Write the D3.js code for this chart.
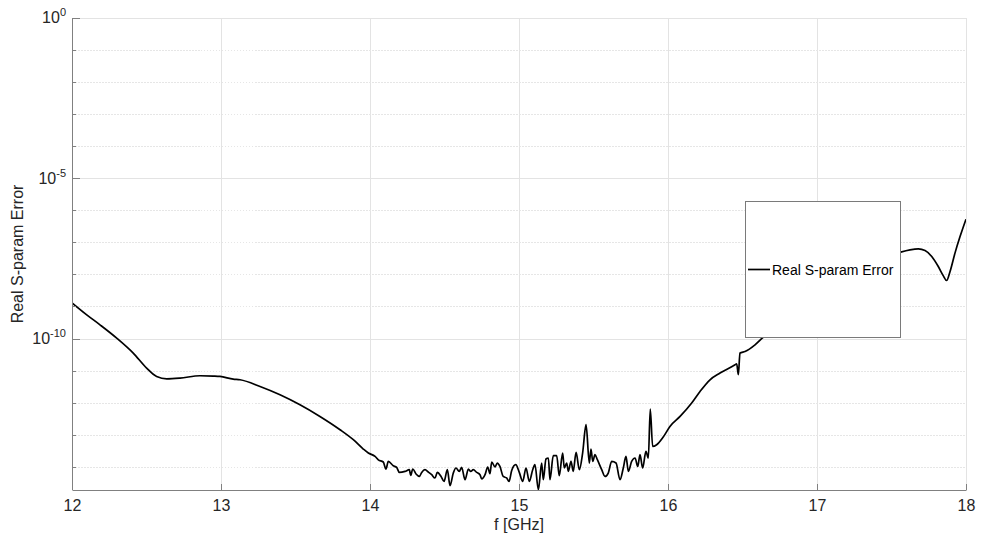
<!DOCTYPE html>
<html>
<head>
<meta charset="utf-8">
<script src="https://cdn.jsdelivr.net/npm/d3@7"></script>
<style>
  html, body { margin: 0; padding: 0; background: #fff; }
  svg { display: block; font-family: Arial, "Liberation Sans", Helvetica, sans-serif; }
</style>
</head>
<body>
<svg id="chart" width="981" height="541"></svg>
<script>
// Frequency samples [GHz]
const freqGHz = [
  12.000, 12.099, 12.188, 12.300, 12.411, 12.501, 12.568, 12.636, 12.725, 12.859,
  12.948, 12.993, 13.082, 13.128, 13.262, 13.396, 13.530, 13.664, 13.799, 13.888,
  13.955, 13.989, 14.034, 14.056, 14.089, 14.107, 14.123, 14.156, 14.179, 14.197,
  14.235, 14.264, 14.273, 14.287, 14.309, 14.331, 14.347, 14.369, 14.391, 14.414,
  14.436, 14.452, 14.477, 14.497, 14.519, 14.537, 14.559, 14.577, 14.599, 14.615,
  14.638, 14.660, 14.676, 14.693, 14.716, 14.738, 14.750, 14.772, 14.790, 14.805,
  14.817, 14.839, 14.854, 14.872, 14.894, 14.917, 14.933, 14.951, 14.978, 15.002,
  15.025, 15.047, 15.069, 15.092, 15.107, 15.130, 15.152, 15.163, 15.181, 15.197,
  15.208, 15.230, 15.253, 15.270, 15.293, 15.304, 15.320, 15.331, 15.349, 15.364,
  15.383, 15.405, 15.427, 15.450, 15.472, 15.483, 15.495, 15.510, 15.526, 15.555,
  15.577, 15.599, 15.622, 15.651, 15.678, 15.700, 15.718, 15.734, 15.756, 15.779,
  15.797, 15.812, 15.830, 15.852, 15.868, 15.881, 15.897, 15.924, 15.968, 16.013,
  16.081, 16.159, 16.215, 16.282, 16.349, 16.450, 16.461, 16.472, 16.483, 16.517,
  16.584, 16.640, 16.886, 17.154, 17.356, 17.562, 17.624, 17.680, 17.725, 17.770,
  17.814, 17.848, 17.870, 17.893, 17.926, 17.960, 18.000
];

// log10 of the real S-parameter error at each frequency
const errorLog10 = [
  -8.870, -9.244, -9.555, -9.969, -10.436, -10.903, -11.164, -11.236, -11.214, -11.142,
  -11.152, -11.164, -11.245, -11.267, -11.475, -11.734, -12.045, -12.409, -12.823, -13.134,
  -13.424, -13.548, -13.654, -13.760, -13.828, -14.046, -13.810, -13.944, -13.996, -14.152,
  -14.121, -14.068, -14.245, -14.046, -14.202, -14.277, -14.152, -14.068, -14.140, -14.224,
  -14.326, -14.152, -14.277, -14.432, -14.068, -14.566, -14.171, -14.015, -14.121, -13.996,
  -14.379, -14.046, -14.121, -14.068, -14.152, -14.224, -14.357, -14.224, -13.984, -14.193,
  -13.828, -13.984, -13.860, -13.965, -14.277, -14.326, -14.432, -14.090, -13.912, -14.152,
  -14.432, -14.015, -14.432, -14.068, -13.912, -14.691, -13.860, -14.379, -13.735, -13.704,
  -14.379, -13.632, -13.632, -14.255, -13.548, -14.015, -13.860, -14.121, -13.810, -14.121,
  -13.530, -14.068, -13.548, -12.667, -13.860, -13.424, -13.810, -13.601, -13.757, -14.068,
  -14.277, -14.171, -13.810, -13.860, -14.379, -14.015, -13.654, -14.121, -13.810, -13.704,
  -13.965, -13.601, -14.015, -13.498, -13.704, -12.179, -13.343, -13.290, -13.050, -12.720,
  -12.409, -11.992, -11.631, -11.267, -11.058, -10.800, -10.769, -11.111, -10.436, -10.386,
  -10.178, -9.938, -9.150, -8.279, -7.688, -7.292, -7.221, -7.190, -7.243, -7.429,
  -7.741, -8.030, -8.176, -7.896, -7.323, -6.807, -6.265
];

const xTicks = [12, 13, 14, 15, 16, 17, 18];
const yLabelExponents = [0, -5, -10];
const yDecadeExponents = [0, -1, -2, -3, -4, -5, -6, -7, -8, -9, -10, -11, -12, -13, -14];
const seriesName = "Real S-param Error";
const xTitle = "f [GHz]";
const yTitle = "Real S-param Error";

const margin = { left: 72, top: 18, right: 15, bottom: 51 };
const W = 981, H = 541;
const innerW = W - margin.left - margin.right;
const innerH = H - margin.top - margin.bottom;

const svg = d3.select("#chart");
const g = svg.append("g").attr("transform", `translate(${margin.left},${margin.top})`);

const x = d3.scaleLinear().domain([12, 18]).range([0, innerW]);
const y = d3.scaleLog().domain([Math.pow(10, -14.7), 1]).range([innerH, 0]);

const data = freqGHz.map((f, i) => ({ f, v: Math.pow(10, errorLog10[i]) }));

// Grid: vertical lines at each x tick
g.append("g").selectAll("line").data(xTicks.slice(1)).join("line")
  .attr("x1", d => x(d)).attr("x2", d => x(d))
  .attr("y1", 0).attr("y2", innerH)
  .attr("stroke", "#e3e3e3").attr("stroke-width", 1)
  .attr("shape-rendering", "crispEdges");

// Grid: horizontal decade lines (labelled decades solid, others dotted)
g.append("g").selectAll("line").data(yDecadeExponents).join("line")
  .attr("x1", 0).attr("x2", innerW)
  .attr("y1", d => y(Math.pow(10, d))).attr("y2", d => y(Math.pow(10, d)))
  .attr("stroke", d => yLabelExponents.includes(d) ? "#e3e3e3" : "#e6e6e6")
  .attr("stroke-dasharray", d => yLabelExponents.includes(d) ? null : "1.5,1.5")
  .attr("stroke-width", 1)
  .attr("shape-rendering", "crispEdges");

// Data line
const clipId = "plot-clip";
svg.append("defs").append("clipPath").attr("id", clipId)
  .append("rect").attr("x", 0).attr("y", 0).attr("width", innerW).attr("height", innerH);

const line = d3.line().x(d => x(d.f)).y(d => y(d.v)).curve(d3.curveMonotoneX);
g.append("path").datum(data)
  .attr("clip-path", `url(#${clipId})`)
  .attr("fill", "none").attr("stroke", "#000").attr("stroke-width", 1.7)
  .attr("stroke-linejoin", "round")
  .attr("d", line);

// X axis (ticks pointing inward)
const xAxis = d3.axisBottom(x).tickValues(xTicks).tickFormat(d3.format("d"))
  .tickSizeInner(-6).tickSizeOuter(0).tickPadding(10);
const xg = g.append("g").attr("transform", `translate(0,${innerH})`).call(xAxis);
xg.select(".domain").attr("stroke", "#808080");
xg.selectAll(".tick line").attr("stroke", "#808080");
xg.selectAll(".tick text").attr("fill", "#262626").attr("font-size", 16);

// Y axis: inward decade ticks, labels only at selected decades
const yg = g.append("g");
yg.append("line").attr("x1", 0).attr("x2", 0).attr("y1", 0).attr("y2", innerH)
  .attr("stroke", "#808080").attr("shape-rendering", "crispEdges");
yg.selectAll("line.tk").data(yDecadeExponents).join("line").attr("class", "tk")
  .attr("x1", 0).attr("x2", d => yLabelExponents.includes(d) ? 8 : 4)
  .attr("y1", d => y(Math.pow(10, d))).attr("y2", d => y(Math.pow(10, d)))
  .attr("stroke", "#808080").attr("shape-rendering", "crispEdges");
const yLab = yg.selectAll("text.lab").data(yLabelExponents).join("text").attr("class", "lab")
  .attr("x", -6).attr("y", d => y(Math.pow(10, d)) + 5)
  .attr("text-anchor", "end").attr("fill", "#262626").attr("font-size", 16);
yLab.append("tspan").text("10");
yLab.append("tspan").attr("dy", -7).attr("font-size", 11).text(d => String(d));

// Axis titles
svg.append("text")
  .attr("x", margin.left + innerW / 2).attr("y", 530)
  .attr("text-anchor", "middle").attr("fill", "#262626").attr("font-size", 16)
  .text(xTitle);
svg.append("text")
  .attr("transform", `translate(23,${margin.top + innerH / 2}) rotate(-90)`)
  .attr("text-anchor", "middle").attr("fill", "#262626").attr("font-size", 16)
  .text(yTitle);

// Legend
const lg = svg.append("g").attr("transform", "translate(745,201)");
lg.append("rect").attr("x", 0.5).attr("y", 0.5).attr("width", 155).attr("height", 136)
  .attr("fill", "#fff").attr("stroke", "#7a7a7a").attr("stroke-width", 1);
lg.append("line").attr("x1", 3).attr("x2", 25).attr("y1", 68.5).attr("y2", 68.5)
  .attr("stroke", "#000").attr("stroke-width", 1.7);
lg.append("text").attr("x", 27).attr("y", 73.5).attr("fill", "#000").attr("font-size", 14)
  .text(seriesName);
</script>
</body>
</html>
